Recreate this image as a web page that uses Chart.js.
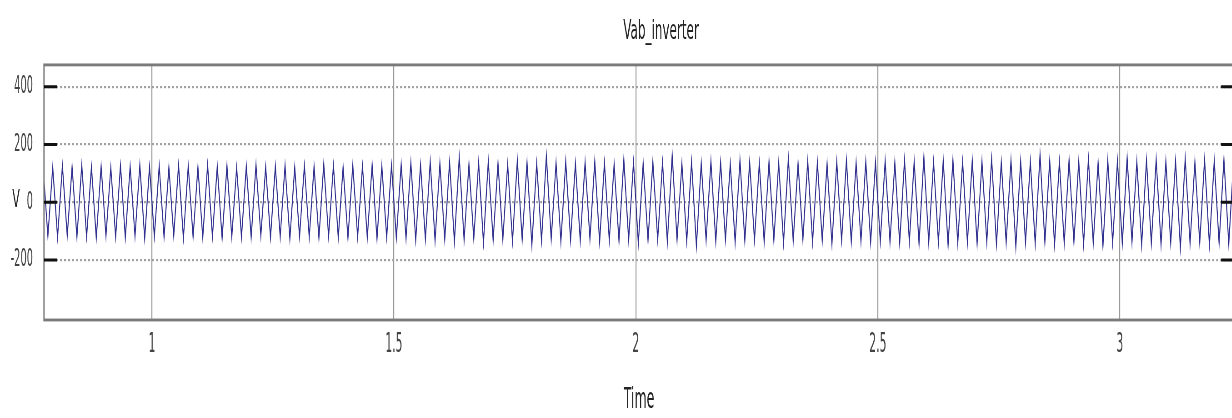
<!DOCTYPE html>
<html>
<head>
<meta charset="utf-8">
<script src="https://cdn.jsdelivr.net/npm/chart.js@4/dist/chart.umd.min.js"></script>
<style>
  html, body { margin: 0; padding: 0; background: #fff; overflow: hidden; }
</style>
</head>
<body>
<canvas id="c" width="1236" height="190" style="display:block;width:1236px;height:418px;"></canvas>
<script>
// ---- chart data ----
const chartTitle = 'Vab_inverter';
const xTitle = 'Time';
const yTitle = 'V';
const xTickValues = [1, 1.5, 2, 2.5, 3];
const xTickLabels = ['1', '1.5', '2', '2.5', '3'];
const yTickValues = [400, 200, 0, -200];
const yTickLabels = ['400', '200', '0', '-200'];
const xRange = [0.777, 3.236];
const yRange = [-408, 476];
// 50 Hz waveform: first sample time and half-period spacing (s)
const sampleStart = 0.775;
const halfPeriod = 0.01;
// positive peak of each cycle (V)
const peaks = [
  124,121,126,123,128,122,125,120,127,124,130,123,126,121,128,125,122,129,124,127,
  120,126,131,123,125,128,122,126,124,133,127,122,129,125,131,126,128,
  132,137,130,141,135,139,156,133,138,142,136,131,145,138,134,160,137,141,135,139,
  143,136,132,148,138,135,141,137,163,134,140,136,142,138,133,146,139,135,141,137,
  152,136,143,138,134,140,145,137,141,139,
  143,138,146,141,158,139,144,147,140,145,142,150,139,146,143,141,165,144,140,147,
  142,149,138,145,143,155,141,146,148,142,144,151,140,147,143,149,145
];
// negative peak of each cycle (V)
const troughs = [
  -118,-122,-116,-121,-119,-124,-117,-120,-123,-118,-126,-119,-121,-117,-124,-120,-122,-118,-125,-119,
  -121,-123,-117,-122,-120,-127,-119,-121,-124,-118,-122,-125,-120,-123,-128,-121,-124,
  -126,-131,-128,-134,-129,-136,-131,-127,-140,-132,-129,-135,-130,-148,-133,-128,-136,-131,-134,-129,
  -138,-132,-135,-130,-142,-133,-129,-137,-131,-135,-152,-132,-136,-130,-139,-134,-131,-137,-133,-141,
  -135,-130,-138,-134,-145,-132,-137,-135,-139,-136,
  -138,-142,-136,-145,-140,-137,-150,-141,-139,-144,-138,-146,-141,-155,-140,-143,-139,-147,-142,-138,
  -145,-141,-152,-140,-144,-139,-148,-142,-146,-141,-158,-143,-140,-147,-142,-145,-141
];

// build point table from the arrays
const points = [];
for (let i = 0; i < peaks.length; i++) {
  points.push({ x: sampleStart + (2 * i) * halfPeriod, y: peaks[i] });
  points.push({ x: sampleStart + (2 * i + 1) * halfPeriod, y: troughs[i] });
}

const decor = {
  id: 'decor',
  afterDatasetsDraw(chart) {
    const { ctx, chartArea: a, scales: { y } } = chart;
    ctx.save();
    // axes box
    ctx.strokeStyle = '#7a7a7a';
    ctx.lineWidth = 1.3;
    ctx.strokeRect(a.left, a.top, a.right - a.left, a.bottom - a.top);
    // inward y tick marks on both sides
    ctx.strokeStyle = '#111';
    ctx.lineWidth = 1.4;
    yTickValues.forEach(v => {
      const py = y.getPixelForValue(v);
      ctx.beginPath();
      ctx.moveTo(a.left, py); ctx.lineTo(a.left + 13, py);
      ctx.moveTo(a.right - 13, py); ctx.lineTo(a.right, py);
      ctx.stroke();
    });
    // title and upright y label
    ctx.fillStyle = '#222';
    ctx.textAlign = 'center';
    ctx.textBaseline = 'middle';
    ctx.font = '12px "DejaVu Sans"';
    ctx.fillText(chartTitle, 661, a.top / 2);
    ctx.font = '11px "DejaVu Sans"';
    ctx.fillText(yTitle, 16, y.getPixelForValue(0) - 0.5);
    ctx.restore();
  }
};

new Chart(document.getElementById('c'), {
  type: 'line',
  data: {
    datasets: [{
      data: points,
      borderColor: '#2f2f8e',
      borderWidth: 1,
      pointRadius: 0,
      tension: 0,
      fill: false
    }]
  },
  options: {
    responsive: false,
    animation: false,
    devicePixelRatio: 2.2,
    layout: { padding: { top: 29.5, right: 2, left: 0, bottom: 0 } },
    plugins: { legend: { display: false }, title: { display: false }, tooltip: { enabled: false } },
    scales: {
      x: {
        type: 'linear',
        min: xRange[0],
        max: xRange[1],
        afterBuildTicks: s => { s.ticks = xTickValues.map(v => ({ value: v })); },
        afterFit: s => { s.height = 44.55; },
        grid: { color: '#9a9a9a', lineWidth: 1, drawTicks: false },
        border: { display: false },
        ticks: {
          padding: 4,
          color: '#444',
          font: { family: "'Liberation Sans Narrow', 'DejaVu Sans Condensed', 'Liberation Sans'", size: 12 },
          maxRotation: 0,
          autoSkip: false,
          callback: (v, i) => xTickLabels[i]
        },
        title: {
          display: true,
          text: xTitle,
          color: '#222',
          font: { family: "'DejaVu Sans'", size: 12.5 },
          padding: { top: 0, bottom: 0.2 }
        }
      },
      y: {
        min: yRange[0],
        max: yRange[1],
        afterBuildTicks: s => { s.ticks = yTickValues.map(v => ({ value: v })); },
        afterFit: s => { s.width = 44; },
        grid: { color: '#a0a0a0', lineWidth: 1, drawTicks: false },
        border: { display: false, dash: [2, 2] },
        ticks: {
          padding: 11,
          color: '#444',
          font: { family: "'Liberation Sans Narrow', 'DejaVu Sans Condensed', 'Liberation Sans'", size: 11 },
          autoSkip: false,
          callback: (v, i) => yTickLabels[i]
        }
      }
    }
  },
  plugins: [decor]
});
</script>
</body>
</html>
